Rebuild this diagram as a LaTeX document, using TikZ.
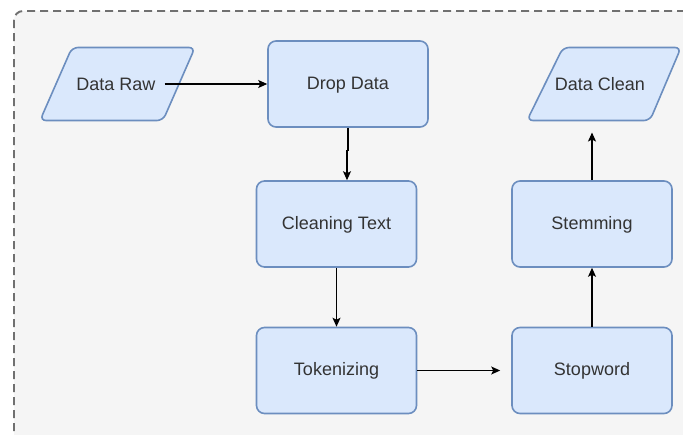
\documentclass[tikz,border=0pt]{standalone}
\usepackage{fontspec}
\setmainfont{Liberation Sans}
\usetikzlibrary{arrows.meta,calc}
\definecolor{boxfill}{HTML}{DAE8FC}
\definecolor{boxline}{HTML}{6C8EBF}
\definecolor{framefill}{HTML}{F5F5F5}
\definecolor{frameline}{HTML}{707070}
\definecolor{txt}{HTML}{333333}
\begin{document}
\begin{tikzpicture}[x=1pt,y=-1pt,
  procbox/.style={draw=boxline,fill=boxfill,line width=1.6pt,rounded corners=8pt,
    minimum width=160pt,minimum height=86pt,inner sep=0pt,text=txt,
    text height=13pt,text depth=3pt,
    font=\fontsize{18}{20}\selectfont},
  iotext/.style={inner sep=0pt,text=txt,text height=13pt,text depth=3pt,font=\fontsize{18}{20}\selectfont},
  ioshape/.style={draw=boxline,fill=boxfill,line width=1.6pt,rounded corners=6pt},
  conn/.style={line width=1.2pt,-{Stealth[length=9pt,width=8pt,inset=2pt]}}]
\useasboundingbox (0,0) rectangle (683,434);
\clip (0,0) rectangle (683,434);
\fill[white] (0,0) rectangle (683,434);
\draw[frameline,fill=framefill,line width=1.9pt,dash pattern=on 8pt off 5pt,rounded corners=9pt]
  (14,11) rectangle (720,470);
% parallelogram shapes
\path (117.5,84) coordinate (rawc);
\draw[ioshape] ($(rawc)+(-45.5,-36.5)$) -- ($(rawc)+(77.5,-36.5)$) -- ($(rawc)+(45.5,36.5)$) -- ($(rawc)+(-77.5,36.5)$) -- cycle;
\node[iotext] (raw) at (116,85) {Data Raw};
\path (603.5,84) coordinate (cleanc);
\draw[ioshape] ($(cleanc)+(-40.5,-36.5)$) -- ($(cleanc)+(77.5,-36.5)$) -- ($(cleanc)+(46.5,36.5)$) -- ($(cleanc)+(-76.5,36.5)$) -- cycle;
\node[iotext] (cleanio) at (600,85) {Data Clean};
\coordinate (cleanbot) at (603.5,120.5);
% process boxes
\node[procbox] (drop) at (348,84) {Drop Data};
\node[procbox] (clean) at (336.5,224) {Cleaning Text};
\node[procbox] (tok) at (336.5,370.5) {Tokenizing};
\node[procbox] (stop) at (592,370.5) {Stopword};
\node[procbox] (stem) at (592,224) {Stemming};
% connectors
\draw[conn] ([xshift=9pt]raw.east |- drop.west) -- (drop.west);
\draw[conn] (drop.south) -- ++(0,23) -- ++(-1,0) -- ([xshift=-1pt]drop.south |- clean.north);
\draw[conn] (clean.south) -- (tok.north);
\draw[conn,shorten >=11pt] (tok.east) -- (stop.west);
\draw[conn] (stop.north) -- (stem.south);
\draw[conn,shorten >=12pt] (stem.north) -- (stem.north |- cleanbot);
\end{tikzpicture}
\end{document}
